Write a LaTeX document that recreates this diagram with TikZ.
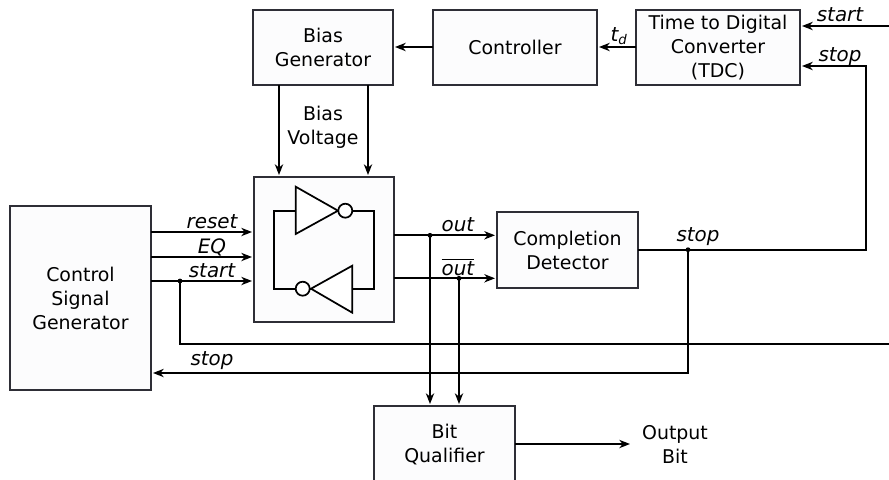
\documentclass[tikz,border=0pt]{standalone}
\usepackage{fontspec}
\setmainfont{DejaVu Sans}
\usetikzlibrary{arrows.meta}
\definecolor{boxline}{HTML}{2E2E36}
\definecolor{boxfill}{HTML}{FCFCFD}
\tikzset{
  block/.style={draw=boxline,line width=1.4pt,fill=boxfill,inner sep=0pt,outer sep=0pt,align=center,font=\fontsize{14.2}{18}\selectfont},
  wire/.style={line width=1.3pt,draw=black},
  arr/.style={wire,-{Stealth[length=8pt,width=6.2pt,inset=2.4pt]},shorten >=1.5pt},
  lab/.style={inner sep=0pt,font=\fontsize{14.9}{17}\selectfont\itshape},
  plain/.style={inner sep=0pt,align=center,font=\fontsize{14.2}{18}\selectfont},
  dot/.style={circle,fill=black,inner sep=0pt,minimum size=3.6pt},
  bub/.style={circle,draw=black,line width=1.3pt,fill=white,inner sep=0pt,minimum size=10.5pt},
  gate/.style={draw=black,line width=1.3pt,fill=white,line join=miter}
}
\begin{document}
\begin{tikzpicture}[x=0.75pt,y=-0.75pt]
\useasboundingbox (0,0) rectangle (889,479);
\fill[white] (0,0) rectangle (889,479);
\clip (0,0) rectangle (889,479);
% blocks
\node[block,minimum width=105pt,minimum height=56.25pt] (bias) at (323,47.5) {Bias\\Generator};
\node[block,minimum width=123pt,minimum height=56.25pt] (ctrl) at (515,47.5) {Controller};
\node[block,minimum width=123pt,minimum height=56.25pt] (tdc) at (718,47.5) {Time to Digital\\Converter\\(TDC)};
\node[block,minimum width=105pt,minimum height=108.75pt] (latch) at (324,249.5) {};
\node[block,minimum width=105.75pt,minimum height=57pt] (comp) at (567.5,250) {Completion\\Detector};
\node[block,minimum width=105.75pt,minimum height=138pt] (csg) at (80.5,298) {Control\\Signal\\Generator};
\node[block,minimum width=105.75pt,minimum height=58.5pt] (bq) at (444.5,445) {Bit\\Qualifier};
\node[plain] (bv) at (323,127.5) {Bias\\Voltage};
\node[plain] (obit) at (675,444.5) {Output\\Bit};
% inverters
\coordinate (i1a) at (295.7,186.7); \coordinate (i1b) at (295.7,234); \coordinate (i1c) at (338,210.7);
\coordinate (i2a) at (352.3,265.7); \coordinate (i2b) at (352.3,312.7); \coordinate (i2c) at (311,288.7);
\coordinate (i1in) at (295.7,210.7); \coordinate (i2in) at (352.3,288.7);
\coordinate (fbL) at (273.7,210.7); \coordinate (fbLb) at (273.7,288.7);
\coordinate (fbR) at (374.3,210.7); \coordinate (fbRb) at (374.3,288.7);
\draw[wire] (i1in) -- (fbL) -- (fbLb) -- (i2c);
\draw[wire] (i1c) -- (fbR) -- (fbRb) -- (i2in);
\draw[gate] (i1a) -- (i1b) -- (i1c) -- cycle;
\draw[gate] (i2a) -- (i2b) -- (i2c) -- cycle;
\node[bub] (b1) at (345.3,210.7) {};
\node[bub] (b2) at (302.7,288.7) {};
% ports
\coordinate (toprow) at (0,47);
\coordinate (pbiasL) at (279,85); \coordinate (pbiasR) at (368,85);
\coordinate (platL) at (279,177); \coordinate (platR) at (368,177);
\coordinate (r1) at (151,232); \coordinate (r2) at (254,232);
\coordinate (e1) at (151,257); \coordinate (e2) at (254,257);
\coordinate (s1) at (151,281); \coordinate (s2) at (254,281);
\coordinate (sj) at (180,281); \coordinate (sb) at (180,344); \coordinate (se) at (889,344);
\coordinate (o1) at (394,235.3); \coordinate (o2) at (497,235.3);
\coordinate (n1) at (394,278.3); \coordinate (n2) at (497,278.3);
\coordinate (oj) at (430,235.3); \coordinate (nj) at (459,278.3);
\coordinate (oq) at (430,406); \coordinate (nq) at (459,406);
\coordinate (c1) at (638,249.7); \coordinate (cj) at (688,249.7); \coordinate (cr) at (866,249.7);
\coordinate (ct) at (866,66); \coordinate (tstop) at (800,66);
\coordinate (cb) at (688,373); \coordinate (gstop) at (151,373);
\coordinate (tstartR) at (889,26); \coordinate (tstart) at (800,26);
\coordinate (oute) at (632,444);
% connectors
\draw[arr] (ctrl.west |- toprow) -- (bias.east |- toprow);
\draw[arr] (tdc.west |- toprow) -- (ctrl.east |- toprow);
\draw[arr] (tstartR) -- (tstart);
\draw[arr] (c1) -- (cr) -- (ct) -- (tstop);
\draw[arr] (pbiasL) -- (platL);
\draw[arr] (pbiasR) -- (platR);
\draw[arr] (r1) -- (r2);
\draw[arr] (e1) -- (e2);
\draw[arr] (s1) -- (s2);
\draw[wire] (sj) -- (sb) -- (se);
\draw[arr] (o1) -- (o2);
\draw[arr] (n1) -- (n2);
\draw[arr] (oj) -- (oq);
\draw[arr] (nj) -- (nq);
\draw[arr] (cj) -- (cb) -- (gstop);
\draw[arr] (bq.east |- oute) -- (oute);
\node[dot] at (sj) {}; \node[dot] at (oj) {}; \node[dot] at (nj) {}; \node[dot] at (cj) {};
% labels
\node[lab] at (212,222) {reset};
\node[lab] at (212,247) {EQ};
\node[lab] at (212,271) {start};
\node[lab] at (458,225) {out};
\node[lab] at (458,267) {$\overline{\hbox{\fontsize{14.9}{17}\selectfont\itshape out}}$};
\node[lab] at (698,237) {stop};
\node[lab] at (212,361) {stop};
\node[lab] at (840,15) {start};
\node[lab] at (840,57) {stop};
\node[lab] at (619,36) {$\hbox{\itshape t}_{\hbox{\fontsize{10}{11}\selectfont\itshape d}}$};
\end{tikzpicture}
\end{document}
